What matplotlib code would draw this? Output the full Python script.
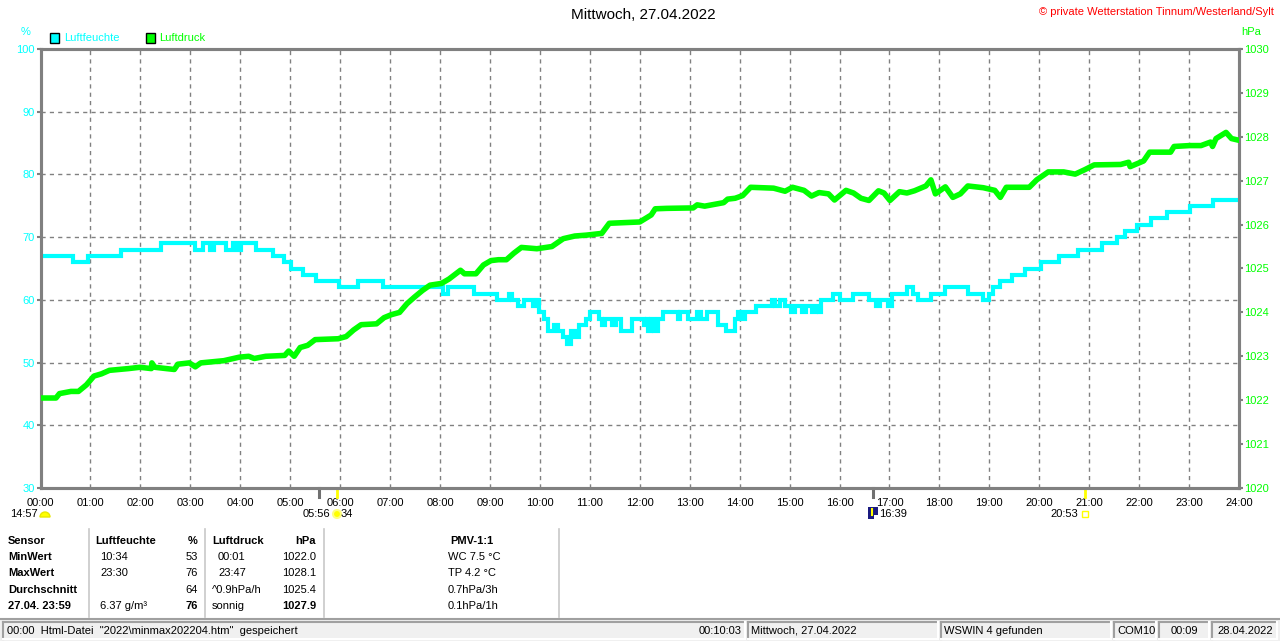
import matplotlib
matplotlib.use("Agg")
import matplotlib.pyplot as plt
from matplotlib.patches import Rectangle, Circle, Wedge

plt.rcParams['font.family'] = ['Liberation Sans', 'DejaVu Sans']

# ---------------- data ----------------
hum_t = [0, 0.65, 0.96, 1.61, 2.42, 3.10, 3.25, 3.40, 3.48, 3.71, 3.86, 3.94, 4.01,
         4.32, 4.66, 4.87, 5.02, 5.26, 5.52, 5.98, 6.36, 6.86, 8.07, 8.17, 8.68,
         9.14, 9.39, 9.45, 9.56, 9.69, 9.86, 9.94, 9.98, 10.08, 10.17, 10.28, 10.36,
         10.46, 10.54, 10.63, 10.70, 10.78, 10.93, 11.01, 11.18, 11.24, 11.31, 11.45,
         11.52, 11.62, 11.85,
         12.09, 12.14, 12.17, 12.23, 12.29, 12.37, 12.47, 12.76, 12.81, 12.96, 13.15,
         13.22, 13.34, 13.57, 13.72, 13.90, 13.97, 14.03, 14.10, 14.33, 14.64, 14.71,
         14.81, 14.91, 15.02, 15.10, 15.25, 15.33, 15.44, 15.52, 15.59, 15.63, 15.86,
         16.01, 16.28, 16.59, 16.74, 16.82, 16.97, 17.05, 17.35, 17.47, 17.58, 17.83,
         18.12, 18.57, 18.88, 19.00, 19.07, 19.22, 19.45, 19.71, 20.04, 20.39, 20.78,
         21.25, 21.56, 21.72, 21.96, 22.23, 22.55, 23.01, 23.48, 24.0]
hum_v = [67, 66, 67, 68, 69, 68, 69, 68, 69, 68, 69, 68, 69,
         68, 67, 66, 65, 64, 63, 62, 63, 62, 61, 62, 61,
         60, 61, 60, 59, 60, 59, 60, 58, 57, 55, 56, 55,
         54, 53, 55, 54, 56, 57, 58, 57, 56, 57, 56,
         57, 55, 57,
         56, 57, 55, 57, 55, 57, 58, 57, 58, 57, 58,
         57, 58, 56, 55, 57, 58, 57, 58, 59, 60, 59,
         60, 59, 58, 59, 58, 59, 58, 59, 58, 60, 61,
         60, 61, 60, 59, 60, 59, 61, 62, 61, 60, 61,
         62, 61, 60, 61, 62, 63, 64, 65, 66, 67, 68,
         69, 70, 71, 72, 73, 74, 75, 76, 76]

pres_t = [0, 0.31, 0.38, 0.61, 0.76, 0.92, 1.07, 1.22, 1.38, 1.76, 1.99, 2.22, 2.23,
          2.29, 2.52, 2.68, 2.75, 2.98, 3.10, 3.21, 3.67, 3.98, 4.17, 4.28, 4.51,
          4.89, 4.97, 5.08, 5.20, 5.35, 5.50, 5.96, 6.12, 6.27, 6.42, 6.73, 6.88,
          7.03, 7.19, 7.34, 7.49, 7.65, 7.80, 8.03, 8.18, 8.41, 8.49, 8.72, 8.87,
          9.02, 9.17, 9.33, 9.48, 9.63, 9.94, 10.24, 10.47, 10.70, 10.93, 11.24,
          11.39, 12.0,
          12.23, 12.31, 12.54, 13.07, 13.15, 13.30, 13.68, 13.76, 13.91, 14.06, 14.22,
          14.68, 14.91, 15.06, 15.29, 15.44, 15.59, 15.78, 15.90, 16.13, 16.28, 16.43,
          16.59, 16.78, 16.89, 17.01, 17.20, 17.35, 17.50, 17.73, 17.83, 17.92, 18.12,
          18.27, 18.42, 18.57, 18.88, 19.11, 19.22, 19.34, 19.80, 19.95, 20.18, 20.49,
          20.72, 20.91, 21.10, 21.63, 21.79, 21.82, 22.09, 22.21, 22.63, 22.70, 23.01,
          23.24, 23.43, 23.47, 23.54, 23.74, 23.85, 24.0]
pres_v = [1022.05, 1022.05, 1022.15, 1022.20, 1022.20, 1022.35, 1022.55, 1022.60,
          1022.68, 1022.72, 1022.75, 1022.72, 1022.85, 1022.75, 1022.72, 1022.70,
          1022.82, 1022.85, 1022.76, 1022.85, 1022.90, 1022.98, 1023.00, 1022.95,
          1023.00, 1023.02, 1023.12, 1023.00, 1023.20, 1023.25, 1023.38, 1023.40,
          1023.45, 1023.60, 1023.72, 1023.74, 1023.88, 1023.95, 1024.00, 1024.20,
          1024.35, 1024.50, 1024.62, 1024.66, 1024.76, 1024.96, 1024.88, 1024.88,
          1025.08, 1025.18, 1025.20, 1025.20, 1025.35, 1025.48, 1025.45, 1025.50,
          1025.68, 1025.74, 1025.76, 1025.80, 1026.03, 1026.06,
          1026.22, 1026.36, 1026.37, 1026.38, 1026.45, 1026.42, 1026.50, 1026.58,
          1026.60, 1026.66, 1026.85, 1026.83, 1026.76, 1026.85, 1026.78, 1026.65,
          1026.73, 1026.70, 1026.56, 1026.78, 1026.72, 1026.60, 1026.55, 1026.77,
          1026.72, 1026.55, 1026.75, 1026.72, 1026.77, 1026.88, 1027.02, 1026.70,
          1026.86, 1026.62, 1026.70, 1026.88, 1026.84, 1026.78, 1026.62, 1026.85,
          1026.85, 1027.02, 1027.20, 1027.20, 1027.15, 1027.25, 1027.36, 1027.37,
          1027.42, 1027.32, 1027.45, 1027.65, 1027.65, 1027.78, 1027.80, 1027.80,
          1027.88, 1027.78, 1027.96, 1028.10, 1027.96, 1027.92]

hour_labels = ['%02d:00' % h for h in range(25)]

# sunrise / sunset / moon markers below the time axis
gray_marks = [5.57, 16.67]
yellow_marks = [5.93, 20.92]

table_rows = ['Sensor', 'MinWert', 'MaxWert', 'Durchschnitt', '27.04. 23:59']
hum_time = ['Luftfeuchte', '10:34', '23:30', '', '6.37 g/m³']
hum_vals = ['%', '53', '76', '64', '76']
pres_time = ['Luftdruck', '00:01', '23:47', '^0.9hPa/h', 'sonnig']
pres_vals = ['hPa', '1022.0', '1028.1', '1025.4', '1027.9']
pmv_vals = ['PMV-1:1', 'WC 7.5 °C', 'TP 4.2 °C', '0.7hPa/3h', '0.1hPa/1h']

CYAN = '#00FFFF'
GREEN = '#00FF00'
GRAY = '#808080'

W, H = 1280, 641
fig = plt.figure(figsize=(W / 100, H / 100), dpi=100, facecolor='white')

# plot area in pixels: x 40..1239, y 49..488
L, R, T, B = 40.5, 1239, 49, 488
ax = fig.add_axes([L / W, 1 - B / H, (R - L) / W, (B - T) / H])
ax.set_xlim(0, 24)
ax.set_ylim(30, 100)
ax.set_xticks(range(25))
ax.set_xticklabels(hour_labels)
ax.set_yticks(range(30, 101, 10))
ax.grid(True, color=GRAY, linestyle=(0, (3, 3)), linewidth=1)
ax.tick_params(axis='x', length=0, pad=7, labelsize=8, labelcolor='black')
ax.tick_params(axis='y', length=3, width=1.5, color=GRAY, pad=1,
               labelsize=8, labelcolor=CYAN)
for s in ax.spines.values():
    s.set_color(GRAY)
    s.set_linewidth(2.2)

ax.step(hum_t, hum_v, where='post', color=CYAN, linewidth=3, zorder=3,
        solid_joinstyle='miter')

ax2 = ax.twinx()
ax2.set_ylim(1020, 1030)
ax2.set_yticks(range(1020, 1031))
ax2.tick_params(axis='y', length=3, width=1.5, color=GRAY, pad=1,
                labelsize=8, labelcolor=GREEN)
for s in ax2.spines.values():
    s.set_color(GRAY)
    s.set_linewidth(2.2)
ax2.plot(pres_t, pres_v, color=GREEN, linewidth=4, zorder=4)

# event ticks under the axis
for t in gray_marks:
    ax.plot([t, t], [30, 28.6], color='#707070', linewidth=2.2, clip_on=False)
for t in yellow_marks:
    ax.plot([t, t], [30, 28.6], color='#FFFF00', linewidth=2, clip_on=False)

# ---------------- overlay in pixel coordinates ----------------
ov = fig.add_axes([0, 0, 1, 1], facecolor='none')
ov.set_xlim(0, W)
ov.set_ylim(H, 0)
ov.axis('off')

ov.text(643, 15, 'Mittwoch, 27.04.2022', ha='center', va='center', fontsize=11)
ov.text(1274, 12, '© private Wetterstation Tinnum/Westerland/Sylt', ha='right',
        va='center', fontsize=8, color='red')
ov.text(26, 32, '%', ha='center', va='center', fontsize=8, color=CYAN)
ov.text(1241, 32, 'hPa', ha='left', va='center', fontsize=8, color=GREEN)

ov.add_patch(Rectangle((50, 33), 9, 10, facecolor=CYAN, edgecolor='black', lw=1))
ov.text(64, 38, 'Luftfeuchte', ha='left', va='center', fontsize=8, color=CYAN)
ov.add_patch(Rectangle((146, 33), 9, 10, facecolor=GREEN, edgecolor='black', lw=1))
ov.text(159, 38, 'Luftdruck', ha='left', va='center', fontsize=8, color=GREEN)

# sun / moon icons
ov.text(38, 514, '14:57', ha='right', va='center', fontsize=8)
ov.add_patch(Wedge((45, 517), 5, 180, 360, facecolor='#FFFF00', edgecolor='#E8E800'))
ov.text(330, 514, '05:56', ha='right', va='center', fontsize=8)
ov.add_patch(Circle((337, 514), 4, facecolor='#FFFF00', edgecolor='#FFFF80', lw=1.5))
ov.text(341, 514, '34', ha='left', va='center', fontsize=8)
ov.add_patch(Rectangle((868, 507), 10, 12, facecolor='#1A1A80', edgecolor='none'))
ov.plot([872, 872], [509, 515], color='#FFFF00', lw=1.5)
ov.add_patch(Rectangle((874, 515), 4, 4, facecolor='white', edgecolor='none'))
ov.text(879, 514, '16:39', ha='left', va='center', fontsize=8)
ov.text(1078, 514, '20:53', ha='right', va='center', fontsize=8)
ov.add_patch(Rectangle((1082, 511), 6, 6, facecolor='white', edgecolor='#FFFF00', lw=1))

# table
row_y = [541, 557, 573, 590, 606]
for i, y in enumerate(row_y):
    hdr = i == 0
    ov.text(8, y, table_rows[i], ha='left', va='center', fontsize=8, fontweight='bold')
    ov.text(95 if hdr else 100, y, hum_time[i], ha='left', va='center', fontsize=8,
            fontweight='bold' if hdr else 'normal')
    ov.text(198, y, hum_vals[i], ha='right', va='center', fontsize=8,
            fontweight='bold' if i in (0, 4) else 'normal')
    ov.text(212 if i in (0, 3, 4) else 218, y, pres_time[i], ha='left', va='center',
            fontsize=8, fontweight='bold' if hdr else 'normal')
    ov.text(316, y, pres_vals[i], ha='right', va='center', fontsize=8,
            fontweight='bold' if i in (0, 4) else 'normal')
    ov.text(472 if hdr else 448, y, pmv_vals[i], ha='center' if hdr else 'left',
            va='center', fontsize=8, fontweight='bold' if hdr else 'normal')
for x in [88.5, 205, 323.5, 559]:
    ov.plot([x, x], [529, 617], color='#C8C8C8', lw=1.2)

# status bar
ov.add_patch(Rectangle((0, 619), W, 22, facecolor='#F0F0F0', edgecolor='none'))
ov.plot([0, W], [619, 619], color='#A0A0A0', lw=1.5)
panels = [(3, 745), (748, 938), (941, 1111), (1114, 1156), (1159, 1209), (1212, 1277)]
for x0, x1 in panels:
    ov.plot([x0, x1], [622, 622], color='#A0A0A0', lw=1.5)
    ov.plot([x0, x0], [622, 639], color='#A0A0A0', lw=1.5)
    ov.plot([x0, x1], [639, 639], color='white', lw=1.5)
    ov.plot([x1, x1], [622, 639], color='white', lw=1.5)
sy = 630.5
ov.text(7, sy, '00:00  Html-Datei  "2022\\minmax202204.htm"  gespeichert', ha='left',
        va='center', fontsize=8)
ov.text(742, sy, '00:10:03', ha='right', va='center', fontsize=8)
ov.text(751, sy, 'Mittwoch, 27.04.2022', ha='left', va='center', fontsize=8)
ov.text(944, sy, 'WSWIN 4 gefunden', ha='left', va='center', fontsize=8)
ov.text(1117, sy, 'COM10', ha='left', va='center', fontsize=8)
ov.text(1184, sy, '00:09', ha='center', va='center', fontsize=8)
ov.text(1245, sy, '28.04.2022', ha='center', va='center', fontsize=8)

fig.savefig('out.png', dpi=100, facecolor='white')
